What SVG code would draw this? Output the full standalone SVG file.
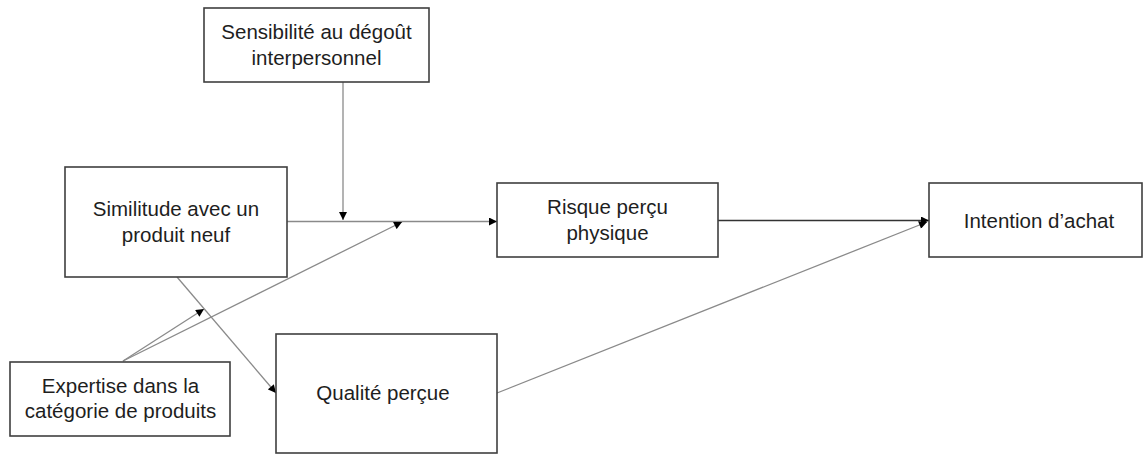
<svg xmlns="http://www.w3.org/2000/svg" width="1144" height="455" viewBox="0 0 1144 455">
  <style>
    .box { fill: #ffffff; stroke: #3f3f3f; stroke-width: 1.6; }
    .lbl { font-family: "Liberation Sans", Arial, sans-serif; font-size: 20.5px; fill: #1e1e1e; text-anchor: middle; }
    .con { fill: none; stroke: #8a8a8a; stroke-width: 1.3; }
    .dark { stroke: #333333; stroke-width: 1.6; }
  </style>
  <defs>
    <marker id="arr" viewBox="0 0 10 10" refX="10" refY="5" markerWidth="9" markerHeight="8" markerUnits="userSpaceOnUse" orient="auto">
      <path d="M0,0 L10,5 L0,10 Z" fill="#000000"/>
    </marker>
  </defs>
  <rect width="1144" height="455" fill="#ffffff"/>

  <g id="connectors">
    <line class="con" x1="287" y1="221.5" x2="497" y2="221.5" marker-end="url(#arr)"/>
    <line class="con" x1="343" y1="82" x2="343" y2="220" marker-end="url(#arr)"/>
    <line class="con" x1="123" y1="361" x2="402" y2="222" marker-end="url(#arr)"/>
    <line class="con" x1="123" y1="361" x2="204" y2="309" marker-end="url(#arr)"/>
    <line class="con" x1="177" y1="277" x2="276" y2="393" marker-end="url(#arr)"/>
    <line class="con dark" x1="718" y1="220.5" x2="929" y2="220.5" marker-end="url(#arr)"/>
    <line class="con" x1="497" y1="393" x2="927" y2="222" marker-end="url(#arr)"/>
  </g>

  <g id="sensibilite">
    <rect class="box" x="204" y="8" width="225" height="74"/>
    <text class="lbl" x="316.5" y="39">Sensibilité au dégoût</text>
    <text class="lbl" x="316.5" y="65">interpersonnel</text>
  </g>

  <g id="similitude">
    <rect class="box" x="65" y="167" width="222" height="110"/>
    <text class="lbl" x="176" y="216">Similitude avec un</text>
    <text class="lbl" x="176" y="242">produit neuf</text>
  </g>

  <g id="expertise">
    <rect class="box" x="10" y="362" width="220" height="74"/>
    <text class="lbl" x="120.5" y="393">Expertise dans la</text>
    <text class="lbl" x="120.5" y="418">catégorie de produits</text>
  </g>

  <g id="risque">
    <rect class="box" x="497" y="183" width="221" height="74"/>
    <text class="lbl" x="607.5" y="214">Risque perçu</text>
    <text class="lbl" x="607.5" y="240">physique</text>
  </g>

  <g id="qualite">
    <rect class="box" x="276" y="334" width="221" height="119"/>
    <text class="lbl" x="383" y="400">Qualité perçue</text>
  </g>

  <g id="intention">
    <rect class="box" x="929" y="183" width="213" height="74"/>
    <text class="lbl" x="1039" y="228">Intention d’achat</text>
  </g>
</svg>
